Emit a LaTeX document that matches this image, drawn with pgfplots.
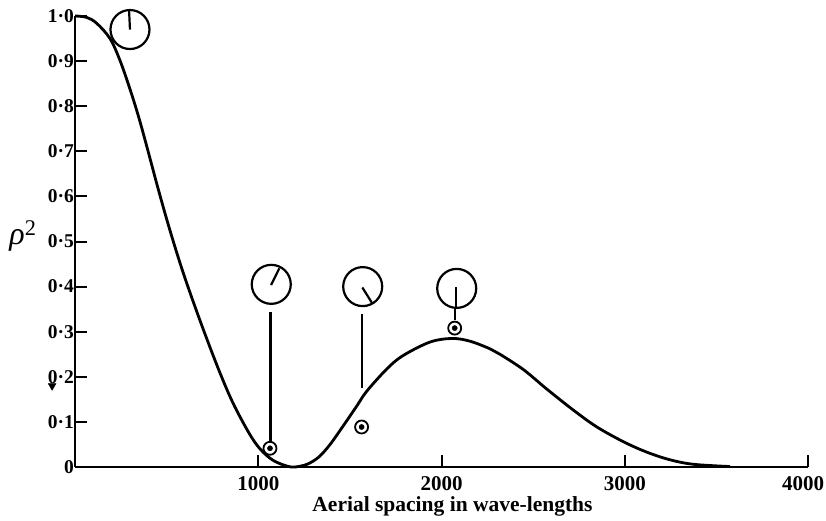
\documentclass[border=0pt]{standalone}
\usepackage{pgfplots}
\pgfplotsset{compat=1.18}
\usepackage{fontspec}
\setmainfont{Liberation Serif}
\begin{document}
\begin{tikzpicture}[x=1pt,y=1pt]
\path[use as bounding box] (-75,-53) rectangle (751,467);
\begin{axis}[
  at={(0,0)},anchor=origin,
  scale only axis,width=733pt,height=451pt,
  xmin=0,xmax=4000,ymin=0,ymax=1,
  axis lines=left,
  axis line style={-,line width=2.2pt,black},
  clip=false,
  xtick={1000,2000,3000,4000},
  xticklabels={1000,2000,3000,\hspace*{-10pt}4000},
  ytick={0,0.1,0.2,0.3,0.4,0.5,0.6,0.7,0.8,0.9,1},
  yticklabels={0,0·1,0·2,0·3,0·4,0·5,0·6,0·7,0·8,0·9,1·0},
  tick style={line width=2pt,black},
  tick align=inside,
  major tick length=12pt,
  yticklabel style={font=\fontsize{19.5}{20}\selectfont\bfseries,xshift=2.5pt},
  xticklabel style={font=\fontsize{21}{21}\selectfont\bfseries,yshift=-6pt},
  xlabel={Aerial spacing in wave-lengths},
  xlabel style={font=\fontsize{21.5}{22}\selectfont\bfseries,at={(axis description cs:0.515,0)},anchor=base,yshift=-44pt},
]
\addplot[line width=2.8pt,black,smooth,tension=0.55] coordinates {
(0,1) (63,.997) (118,.984) (191,.950) (245,.902) (300,.838) (346,.778) (391,.712) (455,.615) (518,.525)
(591,.430) (682,.325) (782,.218) (862,.142) (950,.075) (1010,.040) (1080,.015) (1157,.002) (1200,0)
(1266,.006) (1330,.022) (1392,.050) (1465,.092) (1539,.136) (1592,.168) (1703,.218) (1790,.247) (1937,.277)
(2057,.285) (2155,.279) (2265,.262) (2319,.250) (2447,.216) (2574,.173) (2720,.126) (2847,.089) (2993,.056)
(3120,.033) (3247,.016) (3375,.006) (3575,.001)
};
% dials
\addplot[only marks,mark=o,mark size=19.5pt,mark options={line width=2.2pt,black}] coordinates {(300,.970) (1071,.405) (1570,.400) (2083,.396)};
% bullseye markers
\addplot[only marks,mark=o,mark size=6.5pt,mark options={line width=1.8pt,black}] coordinates {(1064,.0415) (1564,.0887) (2072,.308)};
\addplot[only marks,mark=*,mark size=2.6pt,mark options={black}] coordinates {(1064,.0415) (1564,.0887) (2072,.308)};
% hands
\addplot[line width=2.2pt,black] coordinates {(300,.970) (295,1.013)};
\addplot[line width=2.2pt,black] coordinates {(1070,.4035) (1115,.4405)};
\addplot[line width=2.2pt,black] coordinates {(1568,.398) (1621,.3636)};
\addplot[line width=2.2pt,black] coordinates {(2079,.399) (2079,.3525)};
\addplot[line width=2.2pt,black] coordinates {(2074,.350) (2074,.326)};
% connecting lines
\addplot[line width=2.2pt,black] coordinates {(1067,.344) (1067,.058)};
\addplot[line width=2.2pt,black] coordinates {(1568,.339) (1568,.175)};
% print blemish beside the 0.2 label
\addplot[only marks,mark=triangle*,mark size=4.5pt,mark options={black,rotate=180}] coordinates {(-125,.180)};
\end{axis}
\node[font=\fontsize{32}{32}\selectfont,anchor=center] at (-52,231) {\textit{ρ}\textsuperscript{2}};
\end{tikzpicture}
\end{document}
